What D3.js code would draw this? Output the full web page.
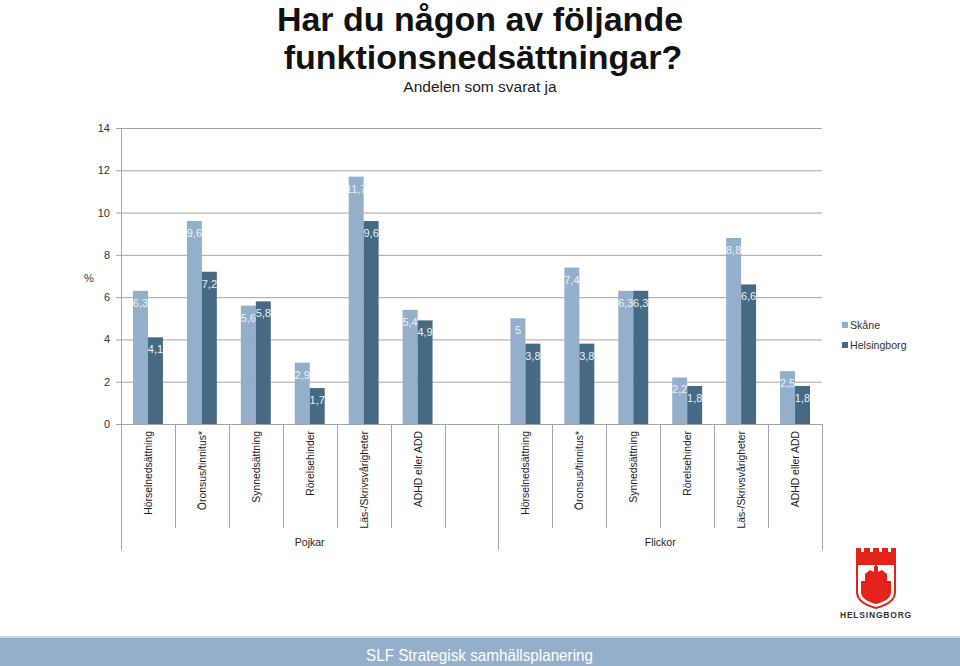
<!DOCTYPE html>
<html>
<head>
<meta charset="utf-8">
<script src="https://cdn.jsdelivr.net/npm/d3@7"></script>
<style>
  body { margin: 0; background: #fff; }
  svg { display: block; font-family: "Liberation Sans", Arial, Helvetica, sans-serif; }
</style>
</head>
<body>
<div id="chart"></div>
<script>
// data
const categories = ["Hörselnedsättning", "Öronsus/tinnitus*", "Synnedsättning", "Rörelsehinder", "Läs-/Skrivsvårigheter", "ADHD eller ADD"];
const groups = ["Pojkar", "Flickor"];
const seriesNames = ["Skåne", "Helsingborg"];
const pojkarSkane = [6.3, 9.6, 5.6, 2.9, 11.7, 5.4];
const pojkarHbg = [4.1, 7.2, 5.8, 1.7, 9.6, 4.9];
const flickorSkane = [5, 7.4, 6.3, 2.2, 8.8, 2.5];
const flickorHbg = [3.8, 3.8, 6.3, 1.8, 6.6, 1.8];
const yTicks = [0, 2, 4, 6, 8, 10, 12, 14];

const width = 960, height = 666;
const margin = {left: 121, right: 138, top: 128, bottom: 242};
const colors = {"Skåne": "#94afcb", "Helsingborg": "#466a84"};

const svg = d3.select("#chart")
  .append("svg")
  .attr("width", width)
  .attr("height", height);

// title
svg.append("text")
  .attr("x", 480).attr("y", 31)
  .attr("text-anchor", "middle")
  .attr("font-size", "34px").attr("font-weight", "bold")
  .attr("fill", "#111")
  .text("Har du någon av följande");
svg.append("text")
  .attr("x", 483).attr("y", 69)
  .attr("text-anchor", "middle")
  .attr("font-size", "34px").attr("font-weight", "bold")
  .attr("fill", "#111")
  .text("funktionsnedsättningar?");
svg.append("text")
  .attr("x", 480).attr("y", 92)
  .attr("text-anchor", "middle")
  .attr("font-size", "15.5px")
  .attr("fill", "#222")
  .text("Andelen som svarat ja");

// slots: 6 pojkar + 1 empty + 6 flickor
const slots = [];
categories.forEach((c, i) => slots.push({key: "P" + i, group: 0, cat: i}));
slots.push({key: "gap", group: 0, cat: -1});
categories.forEach((c, i) => slots.push({key: "F" + i, group: 1, cat: i}));

const x = d3.scaleBand()
  .domain(slots.map(s => s.key))
  .range([margin.left, width - margin.right]);

const xInner = d3.scaleBand()
  .domain(seriesNames)
  .range([12, x.bandwidth() - 12]);

const y = d3.scaleLinear()
  .domain([0, 14])
  .range([height - margin.bottom, margin.top]);

// gridlines
svg.append("g")
  .selectAll("line")
  .data(yTicks)
  .enter()
  .append("line")
    .attr("x1", margin.left - 5)
    .attr("x2", width - margin.right)
    .attr("y1", d => y(d) + 0.5)
    .attr("y2", d => y(d) + 0.5)
    .attr("stroke", "#a6a6a6");

// y axis
svg.append("line")
  .attr("x1", margin.left + 0.5).attr("x2", margin.left + 0.5)
  .attr("y1", y(14)).attr("y2", y(0))
  .attr("stroke", "#a6a6a6");

svg.append("g")
  .selectAll("text")
  .data(yTicks)
  .enter()
  .append("text")
    .attr("x", margin.left - 11)
    .attr("y", d => y(d) + 4)
    .attr("text-anchor", "end")
    .attr("font-size", "11px")
    .attr("fill", "#333")
    .text(d => d);

svg.append("text")
  .attr("x", 89).attr("y", 282)
  .attr("text-anchor", "middle")
  .attr("font-size", "11px")
  .attr("fill", "#333")
  .text("%");

// bars
const barData = [];
slots.forEach(s => {
  if (s.cat < 0) return;
  const sk = s.group === 0 ? pojkarSkane : flickorSkane;
  const hb = s.group === 0 ? pojkarHbg : flickorHbg;
  barData.push({slot: s.key, series: "Skåne", value: sk[s.cat]});
  barData.push({slot: s.key, series: "Helsingborg", value: hb[s.cat]});
});

svg.append("g")
  .selectAll("rect")
  .data(barData)
  .enter()
  .append("rect")
    .attr("x", d => x(d.slot) + xInner(d.series))
    .attr("y", d => y(d.value))
    .attr("width", xInner.bandwidth())
    .attr("height", d => y(0) - y(d.value))
    .attr("fill", d => colors[d.series]);

svg.append("g")
  .selectAll("text")
  .data(barData)
  .enter()
  .append("text")
    .attr("x", d => x(d.slot) + xInner(d.series) + xInner.bandwidth() / 2)
    .attr("y", d => y(d.value) + 16)
    .attr("text-anchor", "middle")
    .attr("font-size", "11px")
    .attr("fill", "#eef2f7")
    .text(d => String(d.value).replace(".", ","));

// category ticks and labels
const tickG = svg.append("g");
const edges = slots.map(s => x(s.key)).concat([width - margin.right]);
edges.forEach((e, i) => {
  const isGroupEdge = (i === 0 || i === 7 || i === slots.length);
  tickG.append("line")
    .attr("x1", Math.round(e) + 0.5).attr("x2", Math.round(e) + 0.5)
    .attr("y1", y(0)).attr("y2", isGroupEdge ? 550 : 528)
    .attr("stroke", "#a6a6a6");
});

tickG.selectAll("text.cat")
  .data(slots.filter(s => s.cat >= 0))
  .enter()
  .append("text")
    .attr("class", "cat")
    .attr("transform", d => `translate(${x(d.key) + x.bandwidth() / 2 + 4}, 431) rotate(-90)`)
    .attr("text-anchor", "end")
    .attr("font-size", "10.4px")
    .attr("fill", "#222")
    .text(d => categories[d.cat]);

// group labels
const groupSpans = [[x("P0"), x("gap") + x.bandwidth()], [x("F0"), width - margin.right]];
groups.forEach((g, i) => {
  svg.append("text")
    .attr("x", (groupSpans[i][0] + groupSpans[i][1]) / 2)
    .attr("y", 546)
    .attr("text-anchor", "middle")
    .attr("font-size", "10.5px")
    .attr("fill", "#222")
    .text(g);
});

// legend
const legend = svg.append("g").attr("transform", "translate(842, 322)");
seriesNames.forEach((n, i) => {
  legend.append("rect")
    .attr("x", 0).attr("y", i * 20)
    .attr("width", 6).attr("height", 6)
    .attr("fill", colors[n]);
  legend.append("text")
    .attr("x", 8).attr("y", i * 20 + 7)
    .attr("font-size", "10.6px")
    .attr("fill", "#333")
    .text(n);
});

// logo
const logo = svg.append("g").attr("transform", "translate(856, 548)");
logo.append("path")
  .attr("d", "M0,0 H5 V4 H8 V0 H14 V4 H17 V0 H23 V4 H26 V0 H32 V4 H35 V0 H40 V16 H0 Z")
  .attr("fill", "#e2231a");
logo.append("path")
  .attr("d", "M1,16 H39 V44 Q39,55 20,60 Q1,55 1,44 Z")
  .attr("fill", "#fff").attr("stroke", "#e2231a").attr("stroke-width", 2);
logo.append("path")
  .attr("d", "M5,44 V33 H9 V26 L14,22 L18,24 V19 L20,16 L22,19 V24 L26,22 L31,26 V33 H35 V44 Q35,52 20,56 Q5,52 5,44 Z")
  .attr("fill", "#e2231a");
logo.append("text")
  .attr("x", 20).attr("y", 70)
  .attr("text-anchor", "middle")
  .attr("font-size", "8.5px").attr("font-weight", "bold")
  .attr("letter-spacing", "0.8px")
  .attr("fill", "#333")
  .text("HELSINGBORG");

// footer
svg.append("rect")
  .attr("x", 0).attr("y", 636).attr("width", width).attr("height", 2)
  .attr("fill", "#c9d7e5");
svg.append("rect")
  .attr("x", 0).attr("y", 638).attr("width", width).attr("height", 28)
  .attr("fill", "#94afcb");
svg.append("text")
  .attr("x", 366).attr("y", 661)
  .attr("font-size", "16.5px")
  .attr("textLength", 227)
  .attr("lengthAdjust", "spacingAndGlyphs")
  .attr("fill", "#fff")
  .text("SLF Strategisk samhällsplanering");
</script>
</body>
</html>
